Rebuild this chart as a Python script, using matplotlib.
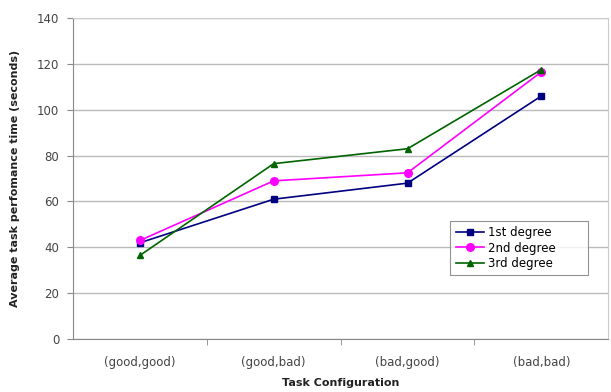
import matplotlib
matplotlib.use("Agg")
import matplotlib.pyplot as plt

plt.rcParams['font.family'] = ['DejaVu Sans']

categories = ['(good,good)', '(good,bad)', '(bad,good)', '(bad,bad)']
first_degree = [42, 61, 68, 106]
second_degree = [43, 69, 72.5, 116.5]
third_degree = [36.5, 76.5, 83, 117.5]

fig = plt.figure(figsize=(6.11, 3.92), dpi=100)
ax = fig.add_axes([0.1195, 0.135, 0.876, 0.819])

x = range(len(categories))
ax.plot(x, first_degree, color='#000080', marker='s', markersize=5, lw=1.2, label='1st degree')
ax.plot(x, second_degree, color='#ff00ff', marker='o', markersize=5.5, lw=1.2, label='2nd degree')
ax.plot(x, third_degree, color='#006400', marker='^', markersize=5, lw=1.2, label='3rd degree')

ax.set_xlim(-0.5, len(categories) - 0.5)
ax.set_ylim(0, 140)
ax.set_yticks(range(0, 141, 20))
ax.set_xticks(x)
ax.set_xticklabels(categories)
ax.set_xticks([i + 0.5 for i in range(len(categories) - 1)], minor=True)
ax.tick_params(axis='x', which='major', length=0, pad=12)
ax.tick_params(axis='x', which='minor', length=4, color='#888888')
ax.tick_params(axis='y', length=4, color='#888888', pad=6)
ax.tick_params(labelsize=8.5, labelcolor='#444444')
ax.grid(axis='y', color='#bbbbbb', lw=1)
ax.set_axisbelow(True)

for s in ['top', 'right']:
    ax.spines[s].set_color('#cccccc')
for s in ['left', 'bottom']:
    ax.spines[s].set_color('#888888')

ax.set_xlabel('Task Configuration', fontsize=8, fontweight='bold', color='#222222', labelpad=7)
ax.set_ylabel('Average task perfomance time (seconds)', fontsize=8, fontweight='bold', color='#222222', labelpad=12)

# legend box placed like the original (x 450-588 px, bottom ~275 px)
leg = ax.legend(loc='lower left', bbox_to_anchor=(0.705, 0.199, 0.258, 0.1), mode='expand',
                fontsize=8.5, frameon=True, fancybox=False, edgecolor='#777777',
                handlelength=2.4, borderpad=0.45, labelspacing=0.2, borderaxespad=0,
                handletextpad=0.3)
leg.get_frame().set_linewidth(0.8)

fig.savefig('out.png', dpi=100)
